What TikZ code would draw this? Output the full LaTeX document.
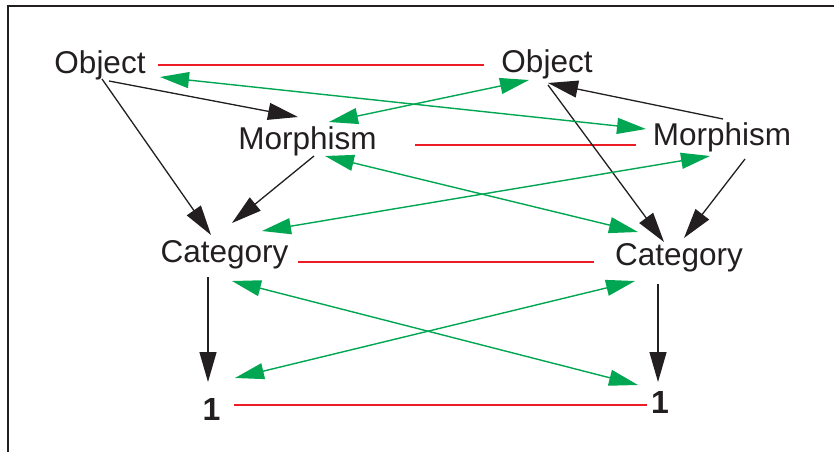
\documentclass[tikz,border=0pt]{standalone}
\usepackage{fontspec}
\setmainfont{Liberation Sans}
\usetikzlibrary{arrows.meta}
\definecolor{ink}{HTML}{231F20}
\definecolor{grn}{HTML}{00A651}
\definecolor{rd}{HTML}{ED1C24}
\tikzset{
  lbl/.style={inner sep=0pt, text=ink, font=\fontsize{31.5}{36}\selectfont},
  onelbl/.style={inner sep=0pt, text=ink, font=\fontsize{32}{36}\selectfont\bfseries},
  blk/.style={draw=ink, line width=1.3pt, -{Triangle[length=30pt,width=17pt]}},
  grarr/.style={draw=grn, line width=1.4pt, {Triangle[length=29pt,width=16pt]}-{Triangle[length=29pt,width=16pt]}},
  redline/.style={draw=rd, line width=1.3pt},
  frame/.style={draw=ink, line width=2pt}
}
\begin{document}
\begin{tikzpicture}[x=1pt,y=-1pt]
\useasboundingbox (0,0) rectangle (834,452);
\coordinate (fb) at (8,452);
\coordinate (fc) at (8,6.5);
\coordinate (fr) at (834,6.5);
\draw[frame] (fb) -- (fc) -- (fr);

\node[lbl, anchor=base] (objL) at (100,73) {Object};
\node[lbl, anchor=base] (objR) at (547,72) {Object};
\node[lbl, anchor=base] (morL) at (307.5,149) {Morphism};
\node[lbl, anchor=base] (morR) at (722,145) {Morphism};
\node[lbl, anchor=base] (catL) at (224.5,262) {Category};
\node[lbl, anchor=base] (catR) at (679,265) {Category};
\node[onelbl, anchor=base] (oneL) at (211.5,420) {1};
\node[onelbl, anchor=base] (oneR) at (660,413) {1};

% red lines
\draw[redline] ([shift={(58,-8)}]objL.base) -- ([shift={(-63,-7)}]objR.base);
\draw[redline] ([shift={(107.5,-4)}]morL.base) -- ([shift={(-86,0)}]morR.base);
\draw[redline] ([shift={(73.5,0)}]catL.base) -- ([shift={(-85,-3)}]catR.base);
\draw[redline] ([shift={(22.5,-15)}]oneL.base) -- ([shift={(-13,-8)}]oneR.base);

% black arrows
\draw[blk] ([shift={(9,8)}]objL.base) -- ([shift={(-9.5,-32)}]morL.base);
\draw[blk] ([shift={(2,6)}]objL.base) -- ([shift={(-13.5,-27)}]catL.base);
\draw[blk] ([shift={(6.5,7)}]morL.base) -- ([shift={(7.5,-39)}]catL.base);
\draw[blk] ([shift={(1,13)}]objR.base) -- ([shift={(-15,-23)}]catR.base);
\draw[blk] ([shift={(1,-26)}]morR.base) -- ([shift={(1,11)}]objR.base);
\draw[blk] ([shift={(23,14)}]morR.base) -- ([shift={(5,-27)}]catR.base);
\draw[blk] ([shift={(-16.5,15)}]catL.base) -- ([shift={(-3.5,-38)}]oneL.base);
\draw[blk] ([shift={(-21,19)}]catR.base) -- ([shift={(-2,-31)}]oneR.base);

% green double arrows
\draw[grarr] ([shift={(60,4)}]objL.base) -- ([shift={(-76,-16)}]morR.base);
\draw[grarr] ([shift={(-18,8)}]objR.base) -- ([shift={(21.5,-27)}]morL.base);
\draw[grarr] ([shift={(17.5,7)}]morL.base) -- ([shift={(-41,-33)}]catR.base);
\draw[grarr] ([shift={(37.5,-31)}]catL.base) -- ([shift={(-12,11)}]morR.base);
\draw[grarr] ([shift={(7.5,19)}]catL.base) -- ([shift={(-22,-28)}]oneR.base);
\draw[grarr] ([shift={(23.5,-42)}]oneL.base) -- ([shift={(-44,16)}]catR.base);
\end{tikzpicture}
\end{document}
